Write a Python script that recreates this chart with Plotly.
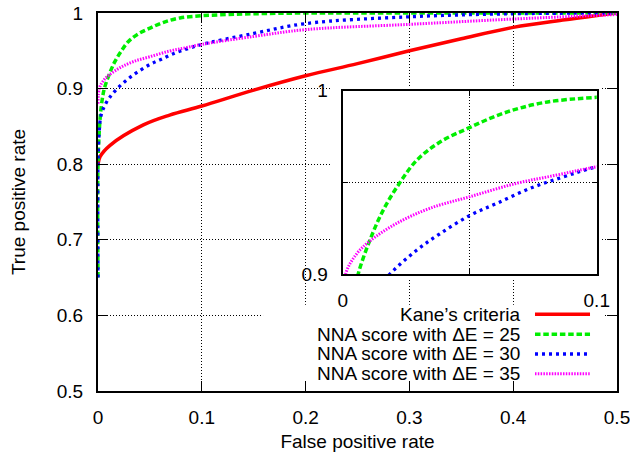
import plotly.graph_objects as go

# ---------------- data ----------------
names = ["Kane\u2019s criteria", "NNA score with \u0394E = 25",
         "NNA score with \u0394E = 30", "NNA score with \u0394E = 35"]

kane_x = [0, 0.002, 0.0116, 0.0437, 0.069, 0.1, 0.15, 0.2, 0.25, 0.3, 0.35, 0.4, 0.45, 0.5]
kane_y = [0.80, 0.81, 0.825, 0.852, 0.865, 0.877, 0.898, 0.917, 0.933, 0.950, 0.966, 0.981, 0.991, 1.0]

e25_x = [0, 0, 0.002, 0.004, 0.0061, 0.0107, 0.016, 0.0219, 0.0291, 0.0383, 0.0501, 0.0632,
         0.079, 0.1, 0.125, 0.15, 0.2, 0.3, 0.4, 0.5]
e25_y = [0.65, 0.80, 0.86, 0.885, 0.900, 0.9185, 0.935, 0.9486, 0.962, 0.972, 0.980, 0.9877,
         0.9935, 0.9964, 0.998, 0.999, 1.0, 1.0, 1.0, 1.0]

e30_x = [0, 0, 0.001, 0.003, 0.0074, 0.0116, 0.0193, 0.0291, 0.0383, 0.0501, 0.0606, 0.0737,
         0.0869, 0.1, 0.15, 0.2, 0.3, 0.4, 0.5]
e30_y = [0.65, 0.80, 0.84, 0.865, 0.880, 0.889, 0.901, 0.913, 0.922, 0.932, 0.9385, 0.9467,
         0.953, 0.9585, 0.973, 0.986, 0.995, 0.999, 1.0]

e35_x = [0, 0.0013, 0.0055, 0.0107, 0.0213, 0.0344, 0.0501, 0.0685, 0.0843, 0.1, 0.15, 0.2,
         0.3, 0.4, 0.5]
e35_y = [0.88, 0.9007, 0.911, 0.918, 0.9277, 0.9359, 0.9422, 0.9495, 0.954, 0.9585, 0.969,
         0.978, 0.985, 0.992, 0.998]

x_ticks = [0, 0.1, 0.2, 0.3, 0.4, 0.5]
x_ticklabels = ["0", "0.1", "0.2", "0.3", "0.4", "0.5"]
y_ticks = [0.5, 0.6, 0.7, 0.8, 0.9, 1.0]
y_ticklabels = ["0.5", "0.6", "0.7", "0.8", "0.9", "1"]
inset_x_ticks = [0, 0.05, 0.1]
inset_x_ticklabels = ["0", "", "0.1"]
inset_y_ticks = [0.9, 0.95, 1.0]
inset_y_ticklabels = ["0.9", "", "1"]

# ---------------- styles ----------------
FONT = "Liberation Sans, Arial, Helvetica, sans-serif"
styles = [
    dict(color="#ff0000", width=3.5, dash="solid"),
    dict(color="#00ee00", width=3.5, dash="5.5px,2.8px"),
    dict(color="#0000ff", width=3.3, dash="3px,4px"),
    dict(color="#ff00ff", width=3.0, dash="1.5px,1.3px"),
]
series = [(kane_x, kane_y), (e25_x, e25_y), (e30_x, e30_y), (e35_x, e35_y)]

fig = go.Figure()
for (xs, ys), st, nm in zip(series, styles, names):
    fig.add_trace(go.Scatter(x=xs, y=ys, mode="lines", name=nm, line=st,
                             xaxis="x", yaxis="y", showlegend=False, line_shape="spline"))
for (xs, ys), st, nm in zip(series, styles, names):
    fig.add_trace(go.Scatter(x=xs, y=ys, mode="lines", name=nm, line=st,
                             xaxis="x2", yaxis="y2", showlegend=False, line_shape="spline"))

grid = dict(showgrid=True, gridcolor="#000000", gridwidth=1, griddash="1px,2px")
axis_common = dict(showline=True, linecolor="#000000", linewidth=2, mirror="allticks",
                   ticks="inside", tickcolor="#000000", tickwidth=1, zeroline=False,
                   automargin=False, ticklabeloverflow="allow",
                   tickfont=dict(family=FONT, size=19, color="#000000"), **grid)

fig.update_layout(
    width=630, height=454,
    margin=dict(l=98, r=13, t=13, b=63),
    paper_bgcolor="white", plot_bgcolor="white",
    font=dict(family=FONT, size=19, color="#000000"),
    xaxis=dict(domain=[0, 1], range=[0, 0.5], tickvals=x_ticks, ticktext=x_ticklabels,
               ticklen=10, ticklabelstandoff=8,
               title=dict(text="False positive rate", font=dict(family=FONT, size=19), standoff=8),
               **axis_common),
    yaxis=dict(domain=[0, 1], range=[0.5, 1.0], tickvals=y_ticks, ticktext=y_ticklabels,
               ticklen=10, ticklabelstandoff=9,
               title=dict(text="True positive rate", font=dict(family=FONT, size=19), standoff=26),
               **axis_common),
    xaxis2=dict(domain=[0.4715, 0.961], anchor="y2", range=[0, 0.1],
                tickvals=inset_x_ticks, ticktext=inset_x_ticklabels,
                ticklen=5, ticklabelstandoff=8, **axis_common),
    yaxis2=dict(domain=[0.3095, 0.7944], anchor="x2", range=[0.9, 1.0],
                tickvals=inset_y_ticks, ticktext=inset_y_ticklabels,
                ticklen=5, ticklabelstandoff=9, **axis_common),
)

# white backgrounds (inset area and key area) hiding main grid lines
fig.add_shape(type="rect", xref="x", yref="y", x0=0.2235, x1=0.485, y0=0.647, y1=0.903,
              fillcolor="white", line=dict(width=0), layer="between")
fig.add_shape(type="rect", xref="x", yref="y", x0=0.159, x1=0.487, y0=0.513, y1=0.614,
              fillcolor="white", line=dict(width=0), layer="between")

# key: text on the left, line sample on the right (gnuplot style)
key_rows = [0.2029, 0.150, 0.0979, 0.0458]
for nm, st, ky in zip(names, styles, key_rows):
    fig.add_annotation(xref="paper", yref="paper", x=0.8164, y=ky, text=nm,
                       showarrow=False, xanchor="right", yanchor="middle",
                       font=dict(family=FONT, size=19, color="#000000"))
    fig.add_shape(type="line", xref="paper", yref="paper", x0=0.842, x1=0.948, y0=ky, y1=ky,
                  line=st, layer="above")

fig.write_html("out.html", config={"displayModeBar": False},
               post_script="document.body.style.margin='0';document.body.style.padding='0';")
